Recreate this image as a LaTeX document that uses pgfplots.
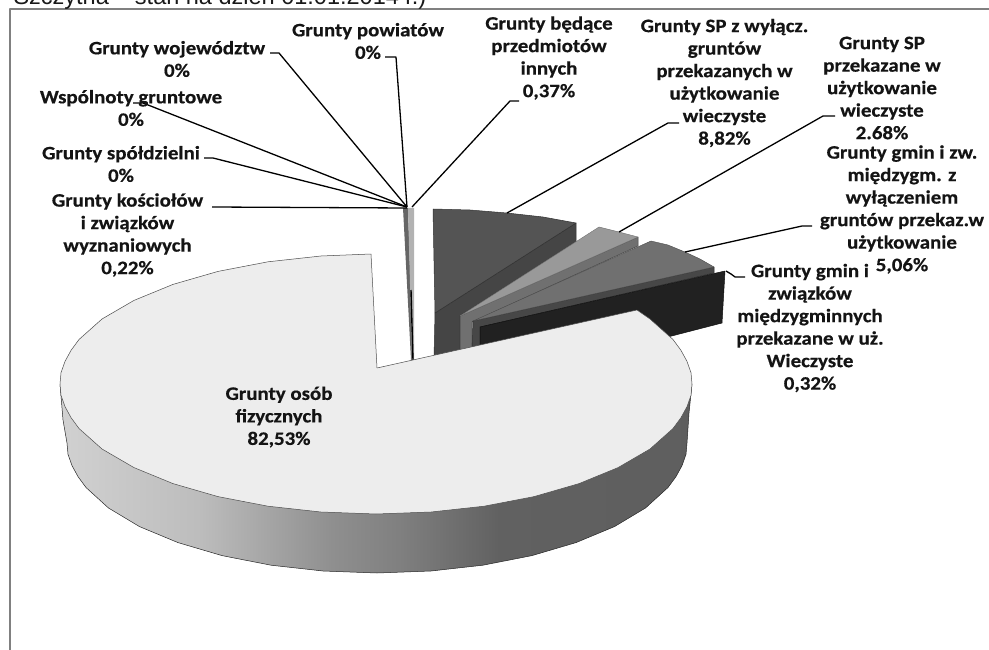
\documentclass[border=0pt]{standalone}
\usepackage{fontspec}
\setmainfont{Carlito}[FakeStretch=1.1,BoldFeatures={FakeBold=0.5}]
\newfontfamily\arialfont{Liberation Sans}
\usepackage{pgfplots}
\pgfplotsset{compat=1.18}
\pgfdeclarehorizontalshading{pieside}{100bp}{
  color(0bp)=(black!18); color(25bp)=(black!18); color(36bp)=(black!26);
  color(46.6bp)=(black!44); color(51.9bp)=(black!50); color(59.8bp)=(black!62);
  color(75bp)=(black!63); color(100bp)=(black!63)}
\tikzset{lab/.style={align=center,font=\fontsize{19}{22.5}\selectfont\bfseries,inner sep=0pt,text=black!92}}
\begin{document}
\begin{tikzpicture}
\clip[use as bounding box] (0,0) rectangle (989pt,650pt);
\begin{axis}[
  at={(0,0)}, anchor=south west,
  scale only axis, width=989pt, height=650pt,
  xmin=0, xmax=989, ymin=0, ymax=650, y dir=reverse,
  hide axis, clip=false, no marks,
  every axis plot/.append style={line join=round}
]
% ramka
\addplot[draw=black!50, line width=1.5pt] coordinates {(10,650) (10,9) (989,9)};

% cienkie wycinki
\addplot[fill=black!60, draw=none] coordinates {(403,208) (408,208) (413,360) (411,360)} -- cycle;
\addplot[fill=black!30, draw=none] coordinates {(408,208) (414,208) (414,290) (414,360) (412,360)} -- cycle;
\addplot[black, line width=1.4pt] coordinates {(411,290) (413,360)};

% 8,82%
\addplot[fill=black!73, draw=black!80, line width=.5pt] coordinates {(435,313) (576,223) (576,242) (460,316) (460,352) (434,358)} -- cycle;
\addplot[fill=black!67, draw=black!80, line width=.5pt] coordinates {(433,209) (470,210) (507,213) (543,217) (565,221) (576,223) (435,313)} -- cycle;
% 2,68%
\addplot[fill=black!56, draw=black!75, line width=.5pt] coordinates {(460,316) (638,237) (638,246) (472,322) (472,350) (460,352)} -- cycle;
\addplot[fill=black!40, draw=black!55, line width=.4pt] coordinates {(599,227) (619,232) (638,237) (460,316)} -- cycle;
% 5,06%
\addplot[fill=black!72, draw=black!85, line width=.5pt] coordinates {(473,321) (714,267) (714,273) (480,327) (480,350) (472,350)} -- cycle;
\addplot[fill=black!56, draw=black!70, line width=.4pt] coordinates {(651,241) (668,245) (685,252) (700,259) (714,267) (473,321)} -- cycle;
% 0,32%
\addplot[fill=black!87, draw=black!95, line width=.5pt] coordinates {(480,327) (725,271) (722,323) (660,339) (480,352)} -- cycle;

% osoby fizyczne
\addplot[draw=black!85, line width=.5pt, shade, shading=pieside] coordinates {
  (692,384) (689,413) (687,443) (686,454.3) (682,465.6) (676,476.6) (668,487.5) (645.5,508)
  (614.5,526.6) (576,542.6) (532,555.6) (483,565.2) (431,571) (377,573) (323,571) (271,565.2)
  (222,555.6) (178,542.6) (139.5,526.6) (108.5,508) (86,487.5) (78,476.6) (72,465.6) (68,454.3)
  (67,443) (63,420) (60,384)} -- cycle;
\addplot[fill=black!7, draw=black!70, line width=.5pt] coordinates {
  (377,368) (637,310) (650,319) (673,339.5) (681,350.4) (687,361.4) (691,372.7) (692,384) (691,395.3)
  (687,406.6) (681,417.6) (673,428.5) (650,449) (618,467.6) (579,483.6) (534,496.6) (484,506.2)
  (431,512) (376,514) (321,512) (268,506.2) (218,496.6) (173,483.6) (134,467.6) (102,449) (79,428.5)
  (71,417.6) (65,406.6) (61,395.3) (60,384) (61,372.7) (65,361.4) (71,350.4) (79,339.5) (102,319)
  (134,300.4) (173,284.4) (218,271.4) (268,261.8) (321,256) (371,254)} -- cycle;

% linie odniesienia
\addplot[black, line width=1.3pt] coordinates {(270,53) (279,53) (407,207)};
\addplot[black, line width=1.3pt] coordinates {(385,57) (396,57) (407,207)};
\addplot[black, line width=1.3pt] coordinates {(133,103) (143,103) (407,207)};
\addplot[black, line width=1.3pt] coordinates {(204,158) (213,158) (407,207)};
\addplot[black, line width=1.3pt] coordinates {(212,207) (407,208)};
\addplot[black, line width=1.3pt] coordinates {(519,101) (510,101) (412,207)};
\addplot[black, line width=1.3pt] coordinates {(679,123) (668,123) (507,213)};
\addplot[black, line width=1.3pt] coordinates {(835,116) (823,116) (619,232)};
\addplot[black, line width=1.3pt] coordinates {(812,226) (802,226) (685,252)};
\addplot[black, line width=1.3pt] coordinates {(745,277) (735,277) (731,274) (726,271)};

% opisy
\node[anchor=base west,font=\arialfont\fontsize{23.5}{26}\selectfont,text=black!90] at (axis cs:10,4.5) {Szczytna – stan na dzień 01.01.2014 r.)};
\node[lab] at (axis cs:177,59) {Grunty województw\\0\%};
\node[lab] at (axis cs:368,41) {Grunty powiatów\\0\%};
\node[lab] at (axis cs:131,108) {Wspólnoty gruntowe\\0\%};
\node[lab] at (axis cs:121,164) {Grunty spółdzielni\\0\%};
\node[lab] at (axis cs:127.5,235) {Grunty kościołów\\i związków\\wyznaniowych\\0,22\%};
\node[lab] at (axis cs:549,58) {Grunty będące\\przedmiotów\\innych\\0,37\%};
\node[lab] at (axis cs:724.5,83) {Grunty SP z wyłącz.\\gruntów\\przekazanych w\\użytkowanie\\wieczyste\\8,82\%};
\node[lab] at (axis cs:882,88) {Grunty SP\\przekazane w\\użytkowanie\\wieczyste\\2.68\%};
\node[lab] at (axis cs:902,209.5) {Grunty gmin i zw.\\międzygm. z\\wyłączeniem\\gruntów przekaz.w\\użytkowanie\\5,06\%};
\node[lab] at (axis cs:810,328) {Grunty gmin i\\związków\\międzygminnych\\przekazane w uż.\\Wieczyste\\0,32\%};
\node[lab] at (axis cs:279,417) {Grunty osób\\fizycznych\\82,53\%};
\end{axis}
\end{tikzpicture}
\end{document}
